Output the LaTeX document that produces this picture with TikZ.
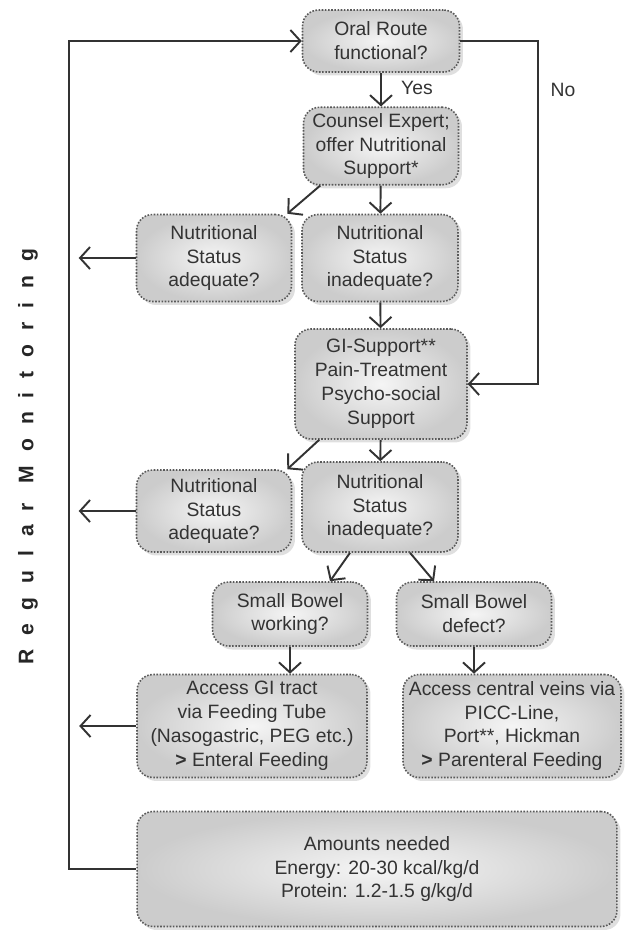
\documentclass[tikz,border=0pt]{standalone}
\usepackage{fontspec}
\setmainfont{Liberation Sans}
\usetikzlibrary{arrows.meta,shadows}

\begin{document}
\begin{tikzpicture}[
    x=0.02cm, y=-0.02cm,
    box/.style={rounded corners=0.32cm, draw=black!65, dash pattern=on 0.9pt off 0.9pt, line width=0.9pt,
        inner color=gray!8, outer color=gray!40, align=center, text=black!80,
        font=\fontsize{11}{13.6}\selectfont,
        drop shadow={opacity=0.25, shadow xshift=0.7mm, shadow yshift=-0.7mm}},
    flow/.style={-{Straight Barb[length=2mm, width=4.4mm, line width=1.1pt]}, line width=1.1pt, draw=black!80},
    plain/.style={line width=1.1pt, draw=black!80},
    lbl/.style={font=\fontsize{11}{13.6}\selectfont, text=black!80}
]
\useasboundingbox (0,0) rectangle (629,930);

% Boxes, top to bottom
\node[box, minimum width=3.14cm, minimum height=1.24cm] (oral) at (381,41) {Oral Route\\functional?};
\node[box, minimum width=3.1cm, minimum height=1.54cm] (counsel) at (381,146) {Counsel Expert;\\offer Nutritional\\Support*};

\node[box, minimum width=3.1cm, minimum height=1.74cm] (adeq1) at (214,258) {Nutritional\\Status\\adequate?};
\node[box, minimum width=3.12cm, minimum height=1.74cm] (inadeq1) at (380,258) {Nutritional\\Status\\inadequate?};

\node[box, minimum width=3.44cm, minimum height=2.2cm] (gisup) at (381,384) {GI-Support**\\Pain-Treatment\\Psycho-social\\Support};

\node[box, minimum width=3.1cm, minimum height=1.64cm] (adeq2) at (214,511) {Nutritional\\Status\\adequate?};
\node[box, minimum width=3.12cm, minimum height=1.8cm] (inadeq2) at (380,507) {Nutritional\\Status\\inadequate?};

\node[box, minimum width=3.1cm, minimum height=1.28cm] (sbwork) at (290,614) {Small Bowel\\working?};
\node[box, minimum width=3.1cm, minimum height=1.28cm] (sbdef) at (474,614) {Small Bowel\\defect?};

\node[box, minimum width=4.6cm, minimum height=2.06cm] (accgi) at (252,726) {Access GI tract\\via Feeding Tube\\(Nasogastric, PEG etc.)\\\textbf{>} Enteral Feeding};
\node[box, minimum width=4.2cm, minimum height=2.06cm] (accven) at (512,726) {Access central veins via\\PICC-Line,\\Port**, Hickman\\\textbf{>} Parenteral Feeding};

\node[box, minimum width=9.6cm, minimum height=2.3cm] (amounts) at (377,869) {Amounts needed\\Energy: 20-30 kcal/kg/d\\Protein: 1.2-1.5 g/kg/d};

% Labels
\node[lbl] (yes) at (417,88) {Yes};
\node[lbl] (no) at (563,90) {No};
\node[rotate=90, text=black!85, font=\bfseries\fontsize{12}{14}\selectfont\addfontfeature{LetterSpace=66}] (monitor) at (28,457) {Regular Monitoring};

% Main flow
\draw[flow] (oral) -- (counsel);
\draw[flow] ([xshift=0.35cm]counsel.south west) -- ([xshift=-0.1cm]adeq1.north east);
\draw[flow] (counsel) -- (inadeq1);
\draw[flow] (inadeq1) -- (gisup);
\draw[flow] ([xshift=0.5cm]gisup.south west) -- ([xshift=-0.1cm]adeq2.north east);
\draw[flow] (gisup) -- (inadeq2);
\draw[flow] ([xshift=-0.6cm]inadeq2.south) -- ([xshift=0.8cm]sbwork.north);
\draw[flow] ([xshift=0.6cm]inadeq2.south) -- ([xshift=-0.8cm]sbdef.north);
\draw[flow] (sbwork) -- (accgi.north -| sbwork);
\draw[flow] (sbdef) -- (accven.north -| sbdef);

% "No" branch
\draw[flow] (oral.east) -- ++(78,0) |- (gisup.east);

% Regular monitoring loop
\draw[flow] (amounts.west) -- ++(-67,0) |- (oral.west);
\draw[flow] (adeq1.west) -- ++(-57,0);
\draw[flow] (adeq2.west) -- ++(-57,0);
\draw[flow] (accgi.west) -- ++(-57,0);

\end{tikzpicture}
\end{document}
